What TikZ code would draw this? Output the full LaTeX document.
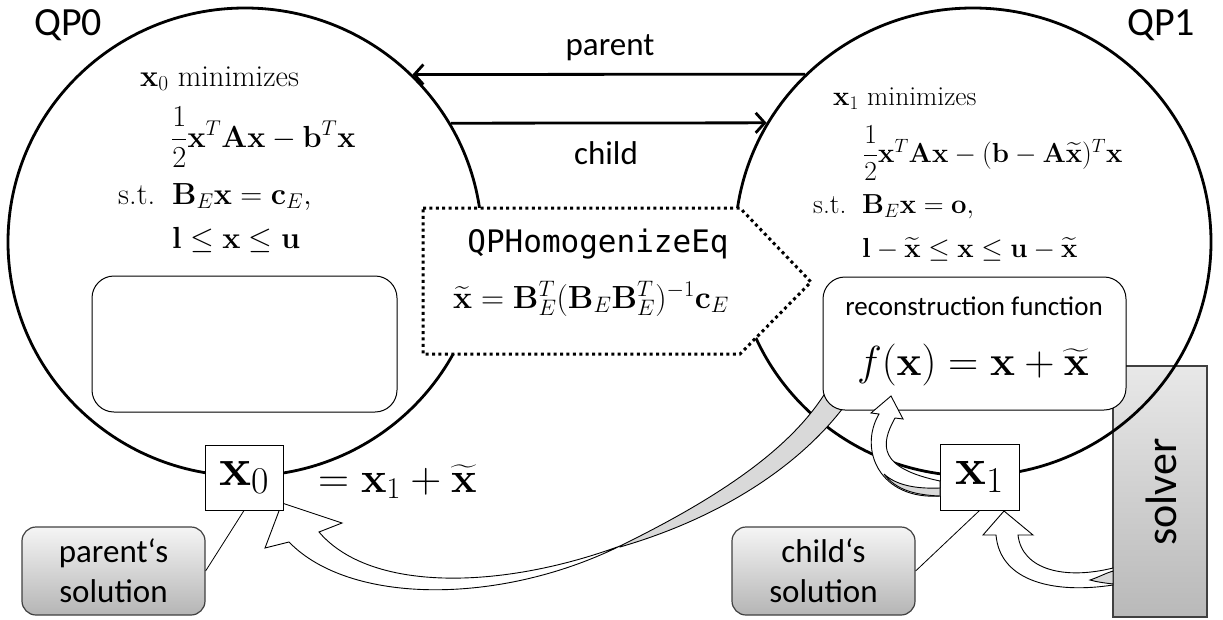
\RequirePackage{fix-cm}
\documentclass[tikz,border=0pt]{standalone}
\usepackage{amsmath}
\usepackage[no-math]{fontspec}
\newfontfamily\calfont{Carlito}
\newfontfamily\consfont{DejaVu Sans Mono}
\usetikzlibrary{shapes.geometric,arrows.meta}
\tikzset{
  qpcircle/.style={ellipse, draw, line width=2.8pt, inner sep=0pt, minimum width=474pt, minimum height=468pt},
  relarrow/.style={line width=2.8pt, -{Straight Barb[length=9pt,width=20pt]}},
  roundbox/.style={draw, line width=1pt, fill=white, rounded corners=22pt, inner sep=0pt},
  valbox/.style={draw, line width=1pt, fill=white, inner sep=0pt, minimum width=78pt, minimum height=65pt},
  solbox/.style={draw=black!75, line width=1.2pt, rounded corners=14pt, top color=gray!8, bottom color=gray!58, inner sep=0pt, minimum width=183pt, minimum height=88pt, align=center, font=\calfont\fontsize{33}{40}\selectfont},
  blockarrow/.style={draw, line width=0.9pt, fill=white, line join=miter},
  twistband/.style={draw, line width=0.9pt, fill=gray!30},
  sansfont/.style={font=\calfont\fontsize{#1}{#1}\selectfont},
  mathsize/.style={font=\fontsize{#1}{#1}\selectfont, inner sep=0pt}
}
\begin{document}
\begin{tikzpicture}[x=1pt,y=-1pt]
\useasboundingbox (0,0) rectangle (1223,619);
% solver block (behind the circle line)
\node[draw=black!75, line width=1.2pt, top color=gray!18, bottom color=gray!55, minimum width=94pt, minimum height=251pt, inner sep=0pt] (solver) at (1160,491.5) {};
\node[sansfont=44, rotate=90] (solvertxt) at (1161,492) {solver};
% the two QPs
\node[qpcircle] (qp0) at (245,242) {};
\node[qpcircle, minimum width=476pt] (qp1) at (973,242) {};
\node[sansfont=40, anchor=base west, inner sep=0pt] (qp0lbl) at (34,35) {QP0};
\node[sansfont=40, anchor=base west, inner sep=0pt] (qp1lbl) at (1127,35) {QP1};
% parent / child relations
\draw[relarrow] (qp1.135) -- (qp0.45);
\draw[relarrow] (qp0.30) -- (qp1.150);
\node[sansfont=33, anchor=base] (parentlbl) at (610,55) {parent};
\node[sansfont=33, anchor=base] (childlbl) at (606,164) {child};
% transformation
\draw[line width=3pt, dash pattern=on 3pt off 3.4pt, fill=white] (423,208) -- (740,208) -- (811,282) -- (740,354) -- (423,354) -- cycle;
\node[font=\consfont\fontsize{31}{31}\selectfont, anchor=base, inner sep=0pt] (hname) at (598,252) {QPHomogenizeEq};
\node[mathsize=32, anchor=base] (hformula) at (591,308) {$\widetilde{\mathbf{x}}=\mathbf{B}_E^T(\mathbf{B}_E\mathbf{B}_E^T)^{-1}\mathbf{c}_E$};
% QP0 contents
\node[mathsize=30.5, anchor=base west] (l1) at (140,86) {$\mathbf{x}_0$ minimizes};
\node[mathsize=30.5, anchor=base west] (l2) at (171,147) {$\dfrac{1}{2}\mathbf{x}^T\mathbf{A}\mathbf{x}-\mathbf{b}^T\mathbf{x}$};
\node[mathsize=30.5, anchor=base west] (l3a) at (118,204) {s.t.};
\node[mathsize=30.5, anchor=base west] (l3b) at (172,204) {$\mathbf{B}_E\mathbf{x}=\mathbf{c}_E,$};
\node[mathsize=30.5, anchor=base west] (l4) at (172,248) {$\mathbf{l}\le\mathbf{x}\le\mathbf{u}$};
\node[roundbox, minimum width=305pt, minimum height=136pt] (emptybox) at (244.5,344) {};
% QP1 contents
\node[mathsize=27.5, anchor=base west] (r1) at (833,105) {$\mathbf{x}_1$ minimizes};
\node[mathsize=27.5, anchor=base west] (r2) at (863,162) {$\dfrac{1}{2}\mathbf{x}^T\mathbf{A}\mathbf{x}-(\mathbf{b}-\mathbf{A}\widetilde{\mathbf{x}})^T\mathbf{x}$};
\node[mathsize=27.5, anchor=base west] (r3a) at (813,213) {s.t.};
\node[mathsize=27.5, anchor=base west] (r3b) at (862,213) {$\mathbf{B}_E\mathbf{x}=\mathbf{o},$};
\node[mathsize=27.5, anchor=base west] (r4) at (862,257) {$\mathbf{l}-\widetilde{\mathbf{x}}\le\mathbf{x}\le\mathbf{u}-\widetilde{\mathbf{x}}$};
% big curved arrow from the reconstruction function to x0
\filldraw[twistband] (620,546) .. controls (720,497) and (792,448) .. (827,390) -- (846,404) .. controls (800,466) and (720,518) .. (620,547) -- cycle;
\filldraw[blockarrow] (282,503) -- (342,523) -- (319,532) .. controls (370,592) and (500,590) .. (620,546) .. controls (500,605) and (350,605) .. (289,542) -- (265,548) -- cycle;
% reconstruction function
\node[roundbox, minimum width=303pt, minimum height=133pt] (recon) at (974.5,343.5) {};
\node[sansfont=27, anchor=base] (recontitle) at (974,315) {reconstruction function};
\node[mathsize=42, anchor=base] (reconf) at (973,375) {$f(\mathbf{x})=\mathbf{x}+\widetilde{\mathbf{x}}$};
% solution boxes
\node[valbox] (x0) at (244,477.5) {\fontsize{54}{54}\selectfont$\mathbf{x}_0$};
\node[mathsize=43, anchor=base west] (x0eq) at (318,492) {$=\mathbf{x}_1+\widetilde{\mathbf{x}}$};
\node[valbox, minimum width=79pt, minimum height=66pt] (x1) at (979.5,477) {\fontsize{52}{52}\selectfont$\mathbf{x}_1$};
% x1 -> reconstruction function
\filldraw[blockarrow] (891,396) -- (903,419) -- (895,418) .. controls (880,445) and (878,468) .. (940,481) -- (940,496) .. controls (880,500) and (858,450) .. (879,414) -- (871,413) -- cycle;
\filldraw[twistband] (884,474) .. controls (896,490) and (915,495) .. (940,496) -- (940,488) .. controls (915,489) and (896,485) .. (884,474) -- cycle;
% solver -> x1
\filldraw[blockarrow] (1004,511) -- (1033,535) -- (1018,535) .. controls (1022,570) and (1065,580) .. (1113,568) -- (1113,585) .. controls (1055,594) and (1000,582) .. (996,535) -- (983,535) -- cycle;
\filldraw[twistband] (1090,580) .. controls (1099,577) and (1106,573) .. (1113,571) -- (1113,584) .. controls (1105,583) and (1097,582) .. (1090,580) -- cycle;
% annotations
\node[solbox] (psol) at (113.5,571) {parent‘s\\solution};
\node[solbox] (csol) at (823.5,571) {child‘s\\solution};
\draw[line width=0.8pt] (psol.east) -- (x0.south);
\draw[line width=0.8pt] (csol.east) -- (x1.south);
\end{tikzpicture}
\end{document}
